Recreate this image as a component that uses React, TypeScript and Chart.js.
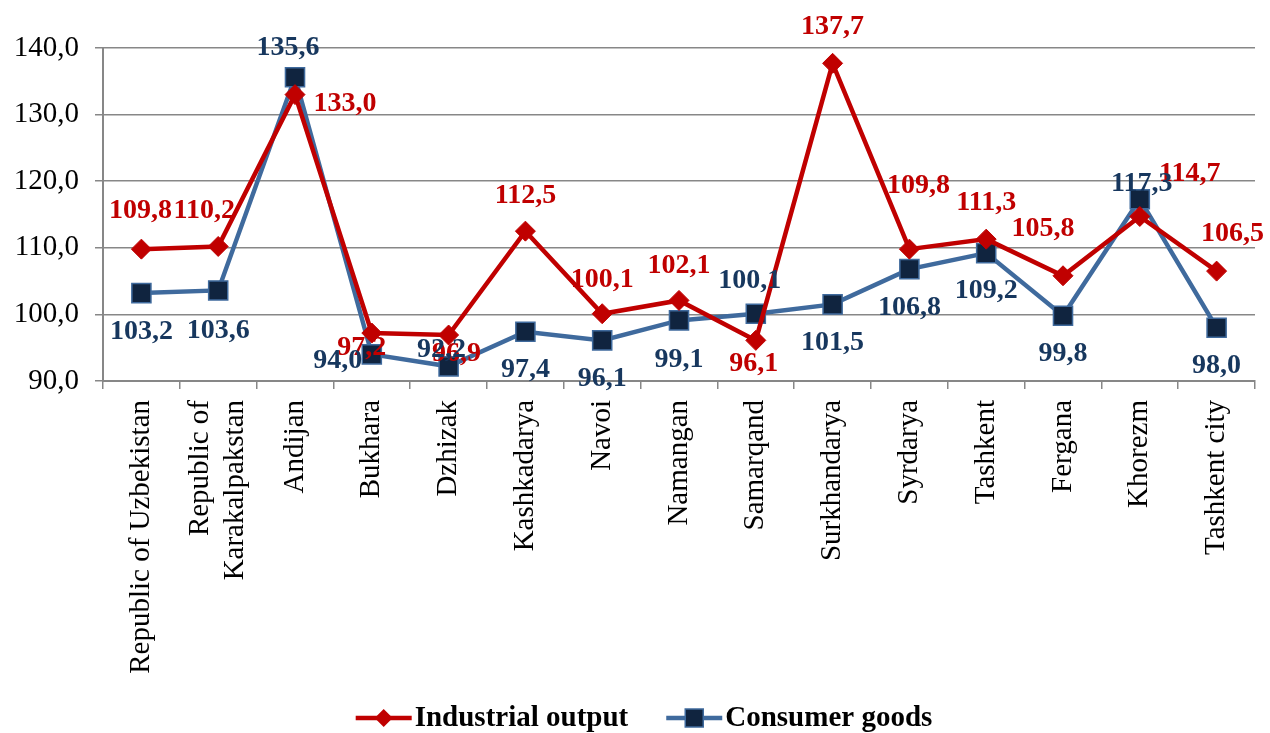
import React, { useEffect, useRef } from "react";
import { Chart, registerables } from "chart.js";

Chart.register(...registerables);

const categories: (string | string[])[] = [
  "Republic of Uzbekistan",
  ["Republic of", "Karakalpakstan"],
  "Andijan",
  "Bukhara",
  "Dzhizak",
  "Kashkadarya",
  "Navoi",
  "Namangan",
  "Samarqand",
  "Surkhandarya",
  "Syrdarya",
  "Tashkent",
  "Fergana",
  "Khorezm",
  "Tashkent city",
];

const industrialOutput = [109.8, 110.2, 133.0, 97.2, 96.9, 112.5, 100.1, 102.1, 96.1, 137.7, 109.8, 111.3, 105.8, 114.7, 106.5];
const consumerGoods = [103.2, 103.6, 135.6, 94.0, 92.2, 97.4, 96.1, 99.1, 100.1, 101.5, 106.8, 109.2, 99.8, 117.3, 98.0];

const yTicks = [90, 100, 110, 120, 130, 140];

// label placement offsets (pixels from the point: [dx, dy])
const industrialLabelOffsets: [number, number][] = [
  [-1, -38], [-14, -36], [50, 9], [-10, 15], [8, 19], [0, -35], [0, -34], [0, -35],
  [-2, 23], [0, -37], [9, -63], [0, -36], [-20, -47], [50, -43], [16, -37],
];
const consumerLabelOffsets: [number, number][] = [
  [0, 39], [0, 40], [-7, -30], [-34, 6], [-7, -17], [0, 38], [0, 38], [0, 39],
  [-6, -33], [0, 38], [0, 39], [0, 38], [0, 38], [2, -15], [0, 38],
];

const RED = "#C00000";
const BLUE_LINE = "#3F6A9D";
const BLUE_FILL = "#10243F";
const BLUE_TEXT = "#17375E";
const GRID = "#878787";
const FONT = "'Liberation Serif', 'Times New Roman', serif";
const TICK_SIZE = 29;

const fmt = (v: number) => v.toFixed(1).replace(".", ",");

const labelPlugin = {
  id: "valueLabels",
  afterDatasetsDraw(chart: any) {
    const ctx = chart.ctx;
    ctx.save();
    ctx.font = `bold 28px ${FONT}`;
    ctx.textAlign = "center";
    ctx.textBaseline = "middle";
    const sets = [
      { idx: 0, color: RED, offs: industrialLabelOffsets, data: industrialOutput },
      { idx: 1, color: BLUE_TEXT, offs: consumerLabelOffsets, data: consumerGoods },
    ];
    for (const s of sets) {
      const meta = chart.getDatasetMeta(s.idx);
      ctx.fillStyle = s.color;
      meta.data.forEach((pt: any, i: number) => {
        const [dx, dy] = s.offs[i];
        ctx.fillText(fmt(s.data[i]), pt.x + dx, pt.y + dy);
      });
    }
    ctx.restore();
  },
};

const xLabelPlugin = {
  id: "xLabels",
  afterDraw(chart: any) {
    const ctx = chart.ctx;
    const xs = chart.scales.x;
    const top = chart.chartArea.bottom + 19;
    const lineH = 35;
    ctx.save();
    ctx.font = `${TICK_SIZE}px ${FONT}`;
    ctx.fillStyle = "#000";
    ctx.textAlign = "right";
    ctx.textBaseline = "middle";
    categories.forEach((lab, i) => {
      const lines = Array.isArray(lab) ? lab : [lab];
      const cx = xs.getPixelForTick(i);
      ctx.save();
      ctx.translate(cx, top);
      ctx.rotate(-Math.PI / 2);
      lines.forEach((ln, k) => {
        const off = (k - (lines.length - 1) / 2) * lineH;
        ctx.fillText(ln, 0, off);
      });
      ctx.restore();
    });
    ctx.restore();
  },
};

const legendPlugin = {
  id: "customLegend",
  afterDraw(chart: any) {
    const ctx = chart.ctx;
    ctx.save();
    ctx.font = `bold 29px ${FONT}`;
    ctx.textBaseline = "middle";
    ctx.textAlign = "left";
    const items = [
      { text: chart.data.datasets[0].label, kind: "diamond" },
      { text: chart.data.datasets[1].label, kind: "square" },
    ];
    const lineLen = 56;
    const gapText = 3;
    const gapItems = 38;
    const widths = items.map((it) => lineLen + gapText + ctx.measureText(it.text).width);
    const total = widths.reduce((a, b) => a + b, 0) + gapItems;
    let x = chart.width / 2 + 9 - total / 2;
    const y = 718;
    items.forEach((it, k) => {
      if (it.kind === "diamond") {
        ctx.strokeStyle = RED;
        ctx.lineWidth = 4.5;
        ctx.beginPath();
        ctx.moveTo(x, y);
        ctx.lineTo(x + lineLen, y);
        ctx.stroke();
        const cx = x + lineLen / 2;
        ctx.fillStyle = RED;
        ctx.beginPath();
        ctx.moveTo(cx - 9, y);
        ctx.lineTo(cx, y - 9);
        ctx.lineTo(cx + 9, y);
        ctx.lineTo(cx, y + 9);
        ctx.closePath();
        ctx.fill();
      } else {
        ctx.strokeStyle = BLUE_LINE;
        ctx.lineWidth = 4.5;
        ctx.beginPath();
        ctx.moveTo(x, y);
        ctx.lineTo(x + lineLen, y);
        ctx.stroke();
        const cx = x + lineLen / 2;
        ctx.fillStyle = BLUE_FILL;
        ctx.fillRect(cx - 9, y - 9, 18, 18);
        ctx.lineWidth = 1.5;
        ctx.strokeRect(cx - 9, y - 9, 18, 18);
      }
      ctx.fillStyle = "#000";
      ctx.fillText(it.text, x + lineLen + gapText, y + 1);
      x += widths[k] + gapItems;
    });
    ctx.restore();
  },
};

export default function App() {
  const ref = useRef<HTMLCanvasElement | null>(null);
  useEffect(() => {
    if (!ref.current) return;
    const chart = new Chart(ref.current, {
      type: "line",
      data: {
        labels: categories as any,
        datasets: [
          {
            label: "Industrial output",
            data: industrialOutput,
            borderColor: RED,
            backgroundColor: RED,
            borderWidth: 4.5,
            pointStyle: "rectRot",
            pointRadius: 10,
            pointBackgroundColor: RED,
            pointBorderColor: RED,
            pointBorderWidth: 1,
            tension: 0,
            clip: false as any,
          },
          {
            label: "Consumer goods",
            data: consumerGoods,
            borderColor: BLUE_LINE,
            backgroundColor: BLUE_FILL,
            borderWidth: 4.5,
            pointStyle: "rect",
            pointRadius: 13.5,
            pointBackgroundColor: BLUE_FILL,
            pointBorderColor: BLUE_LINE,
            pointBorderWidth: 1.5,
            tension: 0,
            clip: false as any,
          },
        ],
      },
      options: {
        responsive: false,
        animation: false,
        layout: { padding: { top: 48, right: 13, left: 0, bottom: 0 } },
        plugins: {
          legend: { display: false },
          tooltip: { enabled: false },
        },
        scales: {
          x: {
            offset: true,
            grid: {
              display: true,
              offset: true,
              drawOnChartArea: false,
              drawTicks: true,
              tickLength: 8,
              color: GRID,
              lineWidth: 1.5,
            },
            border: { display: true, color: GRID, width: 2 },
            ticks: {
              display: false,
              autoSkip: false,
            },
            afterFit: (scale: any) => {
              scale.height = 352;
            },
          },
          y: {
            min: yTicks[0],
            max: yTicks[yTicks.length - 1],
            afterBuildTicks: (scale: any) => {
              scale.ticks = yTicks.map((v) => ({ value: v }));
            },
            grid: {
              color: GRID,
              lineWidth: 1.5,
              drawTicks: true,
              tickLength: 8,
            },
            border: { display: true, color: GRID, width: 2 },
            ticks: {
              padding: 16,
              color: "#000",
              font: { family: FONT, size: TICK_SIZE },
              callback: (v: any) => fmt(Number(v)),
            },
            afterFit: (scale: any) => {
              scale.width = 103;
            },
          },
        },
      },
      plugins: [labelPlugin, xLabelPlugin, legendPlugin],
    });
    return () => chart.destroy();
  }, []);
  return (
    <div style={{ position: "absolute", left: 0, top: 0, width: 1270, height: 733 }}>
      <canvas ref={ref} width={1270} height={733} style={{ display: "block" }} />
    </div>
  );
}
